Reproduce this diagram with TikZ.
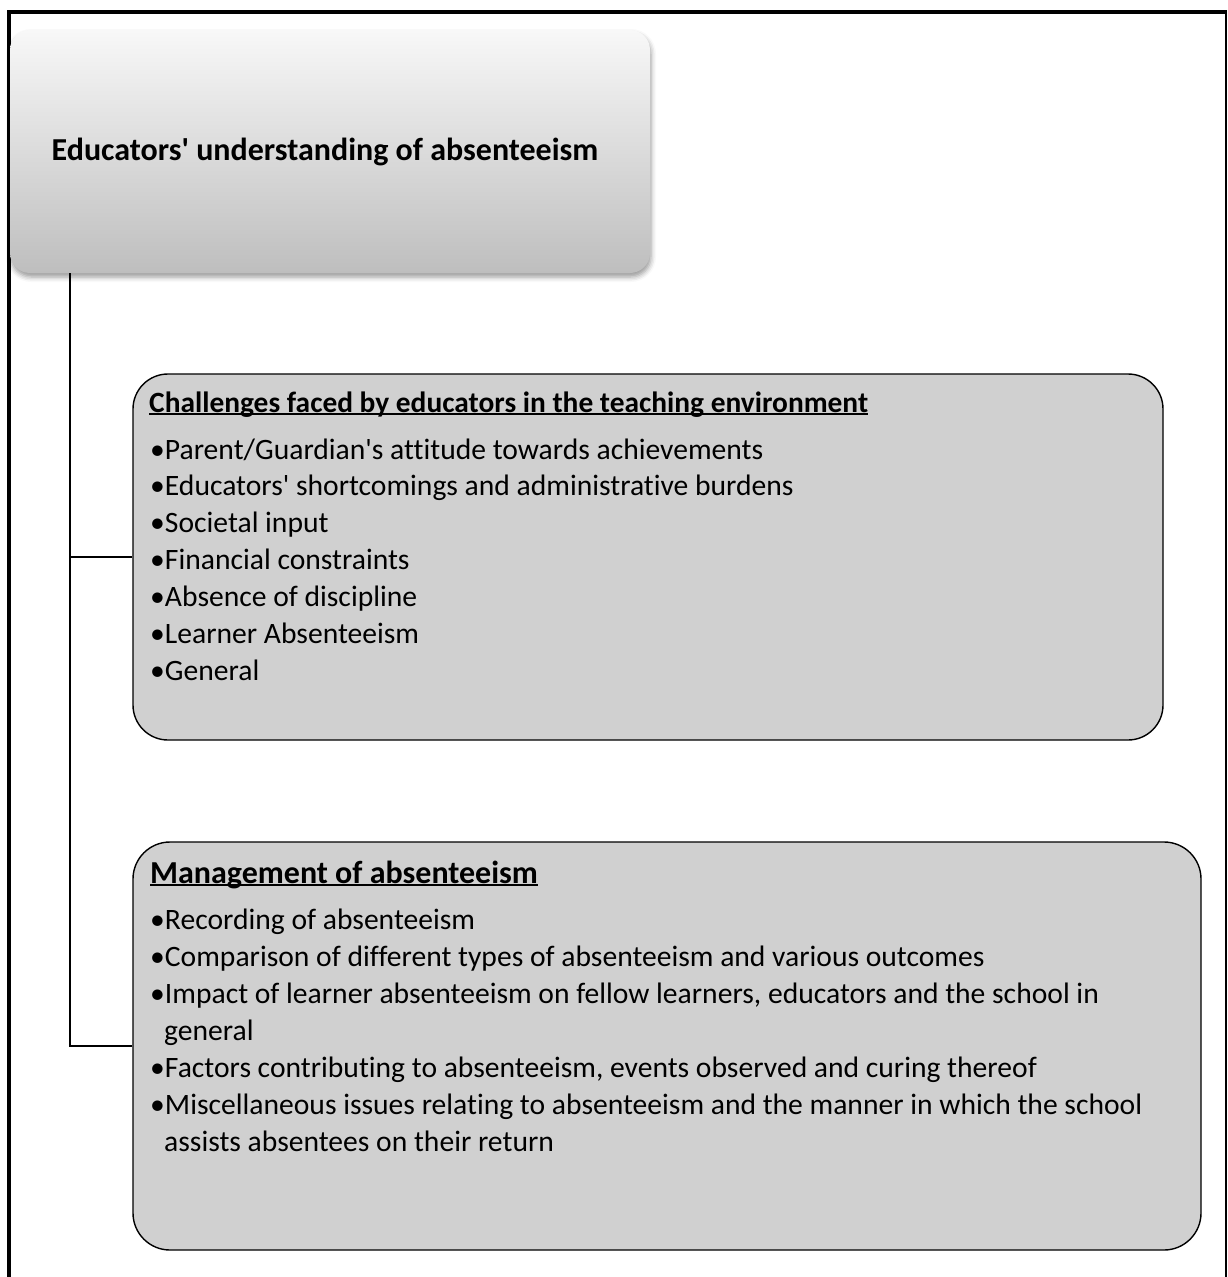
\documentclass[tikz,border=0pt]{standalone}
\usepackage{fontspec}
\setmainfont{Carlito}[Ligatures={TeXOff,NoCommon}]
\usetikzlibrary{shadows.blur}

\definecolor{boxgray}{RGB}{208,208,208}
\definecolor{gradtop}{RGB}{248,248,248}
\definecolor{gradmid}{RGB}{226,226,226}
\definecolor{gradbot}{RGB}{190,190,190}

% underlined heading text with a rule of fixed depth and thickness
\newsavebox{\ulbox}
\newcommand{\headul}[1]{%
  \sbox{\ulbox}{#1}%
  \rlap{\rule[-3pt]{\wd\ulbox}{1.8pt}}\usebox{\ulbox}}

\tikzset{
  topbox/.style={rectangle, rounded corners=20pt, inner sep=0pt,
    top color=gradtop, middle color=gradmid, bottom color=gradbot,
    blur shadow={shadow xshift=1pt, shadow yshift=-4pt,
      shadow blur radius=5pt, shadow opacity=40}},
  listbox/.style={rectangle, draw=black, line width=1.4pt, fill=boxgray,
    inner sep=0pt},
  conn/.style={draw=black, line width=1.5pt},
  frameline/.style={draw=black},
  heading/.style={anchor=base west, inner sep=0pt,
    font=\bfseries\fontsize{29.4}{35}\selectfont},
  bigheading/.style={anchor=base west, inner sep=0pt,
    font=\bfseries\fontsize{32}{38}\selectfont},
  itemline/.style={anchor=base west, inner sep=0pt,
    font=\fontsize{29.6}{35}\selectfont},
}

\begin{document}
\begin{tikzpicture}[x=1pt, y=-1pt]
\useasboundingbox (0,0) rectangle (1228,1277);

% outer frame, open at the bottom
\draw[frameline, line width=4.5pt] (9,1277) -- (9,12) -- (1227,12);
\draw[frameline, line width=2pt] (1226,12) -- (1226,1277);

% root box
\node[topbox, minimum width=640pt, minimum height=243pt,
      font=\bfseries\fontsize{32}{38}\selectfont]
  (root) at (330,151.5) {Educators' understanding of absenteeism\hspace*{10pt}};

% list boxes
\node[listbox, rounded corners=35pt, minimum width=1030pt, minimum height=366pt]
  (chal) at (648,557) {};
\node[listbox, rounded corners=37pt, minimum width=1068pt, minimum height=408pt]
  (mgmt) at (667,1046) {};

% connectors
\coordinate (trunk) at (70,273);
\draw[conn] (root.south -| trunk) |- (chal.west);
\draw[conn] (root.south -| trunk) |- (mgmt.west);

% texts of the first list
\node[heading] (chalhead) at (149,412)
  {\headul{Challenges faced by educators in the teaching environment}};
\node[itemline] (c1) at (150,459) {•Parent/Guardian's attitude towards achievements};
\node[itemline] (c2) at (150,495.5) {•Educators' shortcomings and administrative burdens};
\node[itemline] (c3) at (150,532.5) {•Societal input};
\node[itemline] (c4) at (150,569.5) {•Financial constraints};
\node[itemline] (c5) at (150,606.5) {•Absence of discipline};
\node[itemline] (c6) at (150,643.5) {•Learner Absenteeism};
\node[itemline] (c7) at (150,680.5) {•General};

% texts of the second list
\node[bigheading] (mgmthead) at (150,883) {\headul{Management of absenteeism}};
\node[itemline] (m1) at (150,929) {•Recording of absenteeism};
\node[itemline] (m2) at (150,966) {•Comparison of different types of absenteeism and various outcomes};
\node[itemline] (m3) at (150,1003) {•Impact of learner absenteeism on fellow learners, educators and the school in};
\node[itemline] (m3b) at (164,1040) {general};
\node[itemline] (m4) at (150,1077) {•Factors contributing to absenteeism, events observed and curing thereof};
\node[itemline] (m5) at (150,1114) {•Miscellaneous issues relating to absenteeism and the manner in which the school};
\node[itemline] (m5b) at (164,1151) {assists absentees on their return};
\end{tikzpicture}
\end{document}
